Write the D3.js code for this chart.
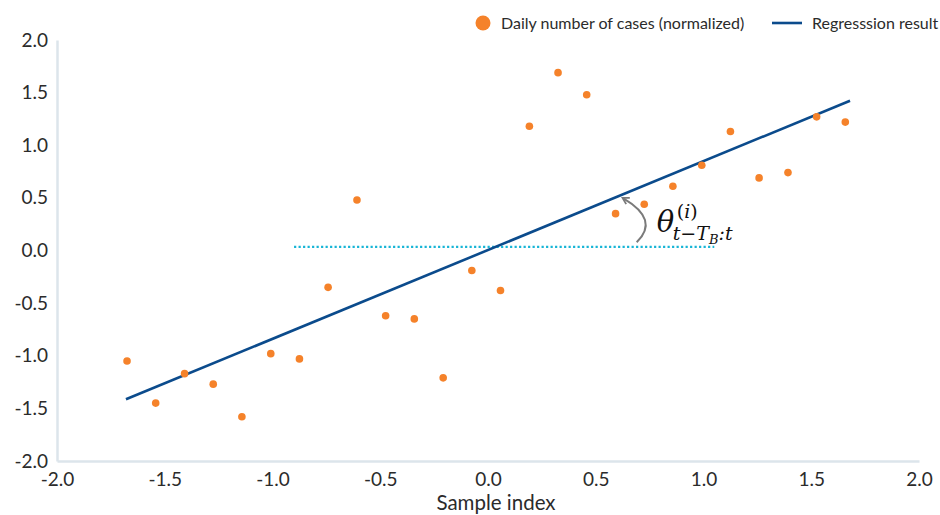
<!DOCTYPE html>
<html>
<head>
<meta charset="utf-8">
<script src="https://cdn.jsdelivr.net/npm/d3@7/dist/d3.min.js"></script>
<style>
  html, body { margin: 0; padding: 0; background: #fff; }
  svg { display: block; font-family: Lato, "Open Sans", sans-serif; }
</style>
</head>
<body>
<svg id="chart" width="940" height="515"></svg>
<script>
// Normalized sample index (x) and daily number of cases (y)
const sampleIndex = [-1.675, -1.542, -1.408, -1.275, -1.142, -1.008, -0.875, -0.742,
  -0.608, -0.475, -0.342, -0.208, -0.075, 0.058, 0.192, 0.325, 0.458, 0.592,
  0.725, 0.858, 0.992, 1.125, 1.258, 1.392, 1.525, 1.658];
const dailyCases = [-1.05, -1.45, -1.17, -1.27, -1.58, -0.98, -1.03, -0.35,
  0.48, -0.62, -0.65, -1.21, -0.19, -0.38, 1.18, 1.69, 1.48, 0.35,
  0.44, 0.61, 0.81, 1.13, 0.69, 0.74, 1.27, 1.22];

// Fitted regression line, end points
const regressionX = [-1.68, 1.68];
const regressionY = [-1.414, 1.423];

// Horizontal reference (dotted) line
const referenceX = [-0.9, 1.05];
const referenceY = 0.035;

// Angle arrow: start, control, end
const arrowPts = [[0.690, 0.078], [0.798, 0.292], [0.628, 0.496]];

const xTicks = [-2.0, -1.5, -1.0, -0.5, 0.0, 0.5, 1.0, 1.5, 2.0];
const yTicks = [-2.0, -1.5, -1.0, -0.5, 0.0, 0.5, 1.0, 1.5, 2.0];

const legendLabels = ["Daily number of cases (normalized)", "Regresssion result"];

const colors = {
  dots: "#F5822A",
  line: "#0B4B8C",
  ref: "#17B5D6",
  axis: "#DCE5EB",
  text: "#2B2B2B",
  arrow: "#7A7A7A"
};

const svg = d3.select("#chart");
const x = d3.scaleLinear().domain([-2, 2]).range([57, 919]);
const y = d3.scaleLinear().domain([-2, 2]).range([461, 40]);

const fmt = d => d.toFixed(1);

// Axes
const gx = svg.append("g").attr("transform", `translate(0,${y(-2)})`)
  .call(d3.axisBottom(x).tickValues(xTicks).tickFormat(fmt).tickSize(0).tickPadding(12));
const gy = svg.append("g").attr("transform", `translate(${x(-2)},0)`)
  .call(d3.axisLeft(y).tickValues(yTicks).tickFormat(fmt).tickSize(0).tickPadding(9));
[gx, gy].forEach(g => {
  g.select(".domain").attr("stroke", colors.axis).attr("stroke-width", 2.5);
  g.selectAll("text").attr("fill", colors.text).style("font-size", "19px")
    .style("font-family", "Lato, sans-serif");
});

svg.append("text")
  .attr("x", 496).attr("y", 510)
  .attr("text-anchor", "middle")
  .attr("fill", colors.text)
  .style("font-size", "20.5px")
  .text("Sample index");

// Dotted reference line
svg.append("line")
  .attr("x1", x(referenceX[0])).attr("x2", x(referenceX[1]))
  .attr("y1", y(referenceY)).attr("y2", y(referenceY))
  .attr("stroke", colors.ref).attr("stroke-width", 2.3)
  .attr("stroke-dasharray", "2.2 2.3");

// Regression line
svg.append("path")
  .datum(regressionX.map((v, i) => [v, regressionY[i]]))
  .attr("d", d3.line().x(d => x(d[0])).y(d => y(d[1])))
  .attr("fill", "none").attr("stroke", colors.line).attr("stroke-width", 2.6);

// Data points
svg.append("g").selectAll("circle")
  .data(sampleIndex.map((v, i) => [v, dailyCases[i]]))
  .join("circle")
  .attr("cx", d => x(d[0])).attr("cy", d => y(d[1]))
  .attr("r", 3.8).attr("fill", colors.dots);

// Angle arrow
svg.append("defs").append("marker")
  .attr("id", "arrowHead")
  .attr("viewBox", "0 0 10 10")
  .attr("refX", 7).attr("refY", 5)
  .attr("markerWidth", 4.5).attr("markerHeight", 4.5)
  .attr("orient", "auto")
  .append("path")
  .attr("d", "M1,1 L8,5 L1,9")
  .attr("fill", "none").attr("stroke", colors.arrow).attr("stroke-width", 2);

const ap = arrowPts.map(p => [x(p[0]), y(p[1])]);
svg.append("path")
  .attr("d", `M${ap[0][0]},${ap[0][1]} Q${ap[1][0]},${ap[1][1]} ${ap[2][0]},${ap[2][1]}`)
  .attr("fill", "none").attr("stroke", colors.arrow).attr("stroke-width", 2)
  .attr("marker-end", "url(#arrowHead)");

// Angle label θ^(i)_{t−T_B:t}
const lx = x(0.783), ly = y(0.176);
const math = svg.append("g").attr("fill", "#111")
  .style("font-family", "'DejaVu Serif', 'Liberation Serif', serif");
math.append("text").attr("x", lx).attr("y", ly)
  .style("font-size", "29px").style("font-style", "italic").text("θ");
const sup = math.append("text").attr("x", lx + 20).attr("y", ly - 14)
  .style("font-size", "19px");
sup.append("tspan").text("(");
sup.append("tspan").style("font-style", "italic").text("i");
sup.append("tspan").text(")");
const sub = math.append("text").attr("x", lx + 16).attr("y", ly + 8)
  .style("font-size", "19px").style("font-style", "italic");
sub.append("tspan").text("t−T");
sub.append("tspan").attr("dy", 4).style("font-size", "13px").text("B");
sub.append("tspan").attr("dy", -4).text(":t");

// Legend
const legend = svg.append("g").style("font-size", "16px").attr("fill", colors.text);
legend.append("circle").attr("cx", 483).attr("cy", 23).attr("r", 7.5).attr("fill", colors.dots);
legend.append("text").attr("x", 501).attr("y", 28.5).text(legendLabels[0]);
legend.append("line").attr("x1", 772).attr("x2", 802).attr("y1", 23).attr("y2", 23)
  .attr("stroke", colors.line).attr("stroke-width", 2.6);
legend.append("text").attr("x", 812).attr("y", 28.5).text(legendLabels[1]);
</script>
</body>
</html>
